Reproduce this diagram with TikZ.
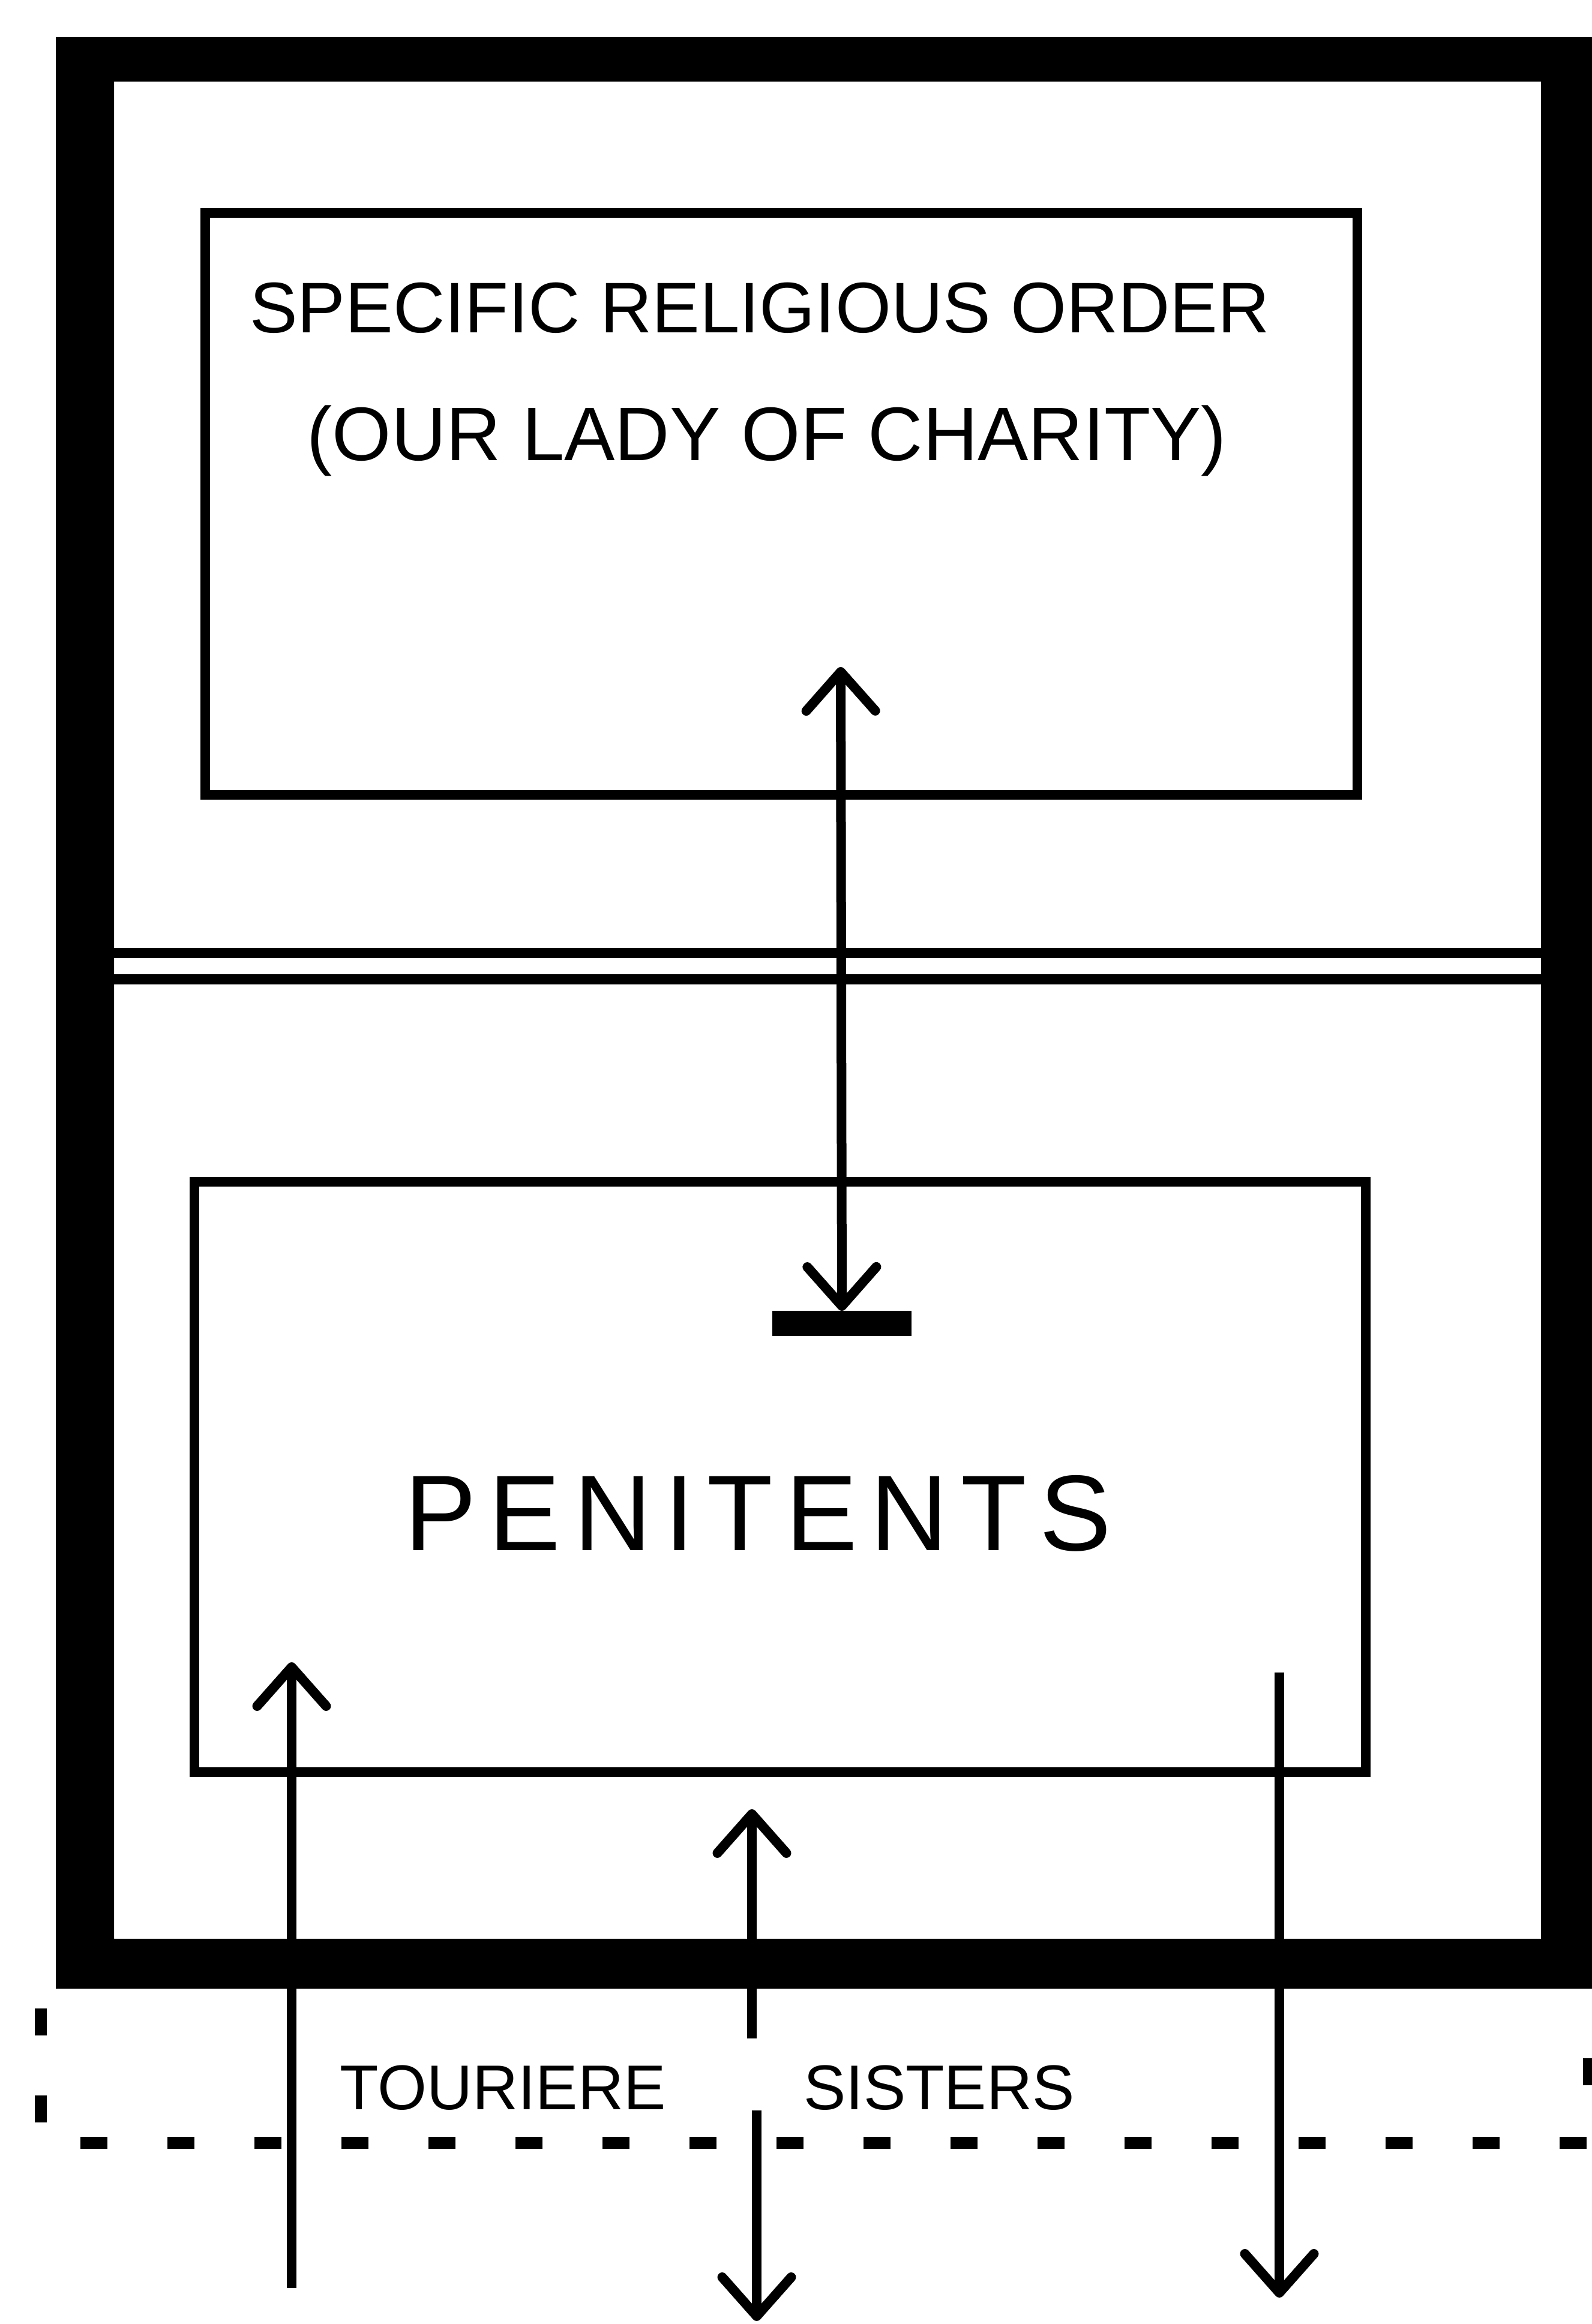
\documentclass[tikz,border=0pt]{standalone}
\usepackage{fontspec}
\setmainfont{Liberation Sans}
\usepackage{tkz-euclide}
\usetikzlibrary{arrows.meta,calc}
\definecolor{InkClr}{rgb}{0,0,0}

\begin{document}
\begin{tikzpicture}[scale=1,
  >={Straight Barb[length=.65cm,width=1.15cm,round]},
  wall/.style={fill=InkClr,even odd rule},
  room/.style={draw=InkClr,line width=.16cm,inner sep=0pt,outer sep=0pt},
  stopbar/.style={fill=InkClr,minimum width=2.32cm,minimum height=.42cm,inner sep=0pt,outer sep=0pt},
  hand/.style={text=InkClr,anchor=base,inner sep=0pt},
  arr/.style={draw=InkClr,line width=.16cm},
  fence/.style={draw=InkClr,line width=.2cm,dash pattern=on .45cm off 1cm}]
\useasboundingbox (0,0) rectangle (26.52,38.74);
\tkzSetUpLine[line width=.17cm,color=InkClr]

\tkzDefPoints{0.93/5.59/W1,26.60/38.12/W2,1.90/6.42/W3,25.68/37.38/W4}
\tkzDefPoints{1.90/22.85/D1,25.68/22.85/D2,1.90/22.41/D3,25.68/22.41/D4}
\tkzDefPoints{14.01/27.62/C1,4.86/0.60/L1,4.86/11.03/L2,12.53/4.76/M1,12.53/8.58/M2}
\tkzDefPoints{12.61/3.56/M3,12.61/0.05/M4,21.32/10.86/R1,21.32/0.44/R2}
\tkzDefPoints{0.68/5.26/B1,0.68/3.02/B2,26.48/3.02/B3,26.48/5.26/B4}

\fill[wall] (W1) rectangle (W2) (W3) rectangle (W4);
\tkzDrawSegments(D1,D2 D3,D4)

\node[room,minimum width=19.2cm,minimum height=9.7cm] (order) at (13.02,30.34) {};
\node[room,minimum width=19.52cm,minimum height=9.84cm] (pen) at (13.00,14.12) {};

\node[hand,font=\fontsize{34}{40}\selectfont] (ordname) at (12.66,33.19) {SPECIFIC RELIGIOUS ORDER};
\node[hand,font=\fontsize{36}{42}\selectfont] (ordsub) at (12.78,31.06) {(OUR LADY OF CHARITY)};
\node[hand,font=\fontsize{51}{60}\selectfont\addfontfeature{LetterSpace=12}] (penname) at (12.63,12.89) {PENITENTS};
\node[hand,font=\fontsize{30}{36}\selectfont] (tour) at (8.38,3.57) {TOURIERE};
\node[hand,font=\fontsize{30}{36}\selectfont] (sis) at (15.65,3.57) {SISTERS};

\node[stopbar] (stop) at (14.03,16.68) {};
\draw[arr,<->] (C1) -- (stop.north);

\draw[arr,->] (L1) -- (L2);
\draw[arr,->] (M1) -- (M2);
\draw[arr,->] (M3) -- (M4);
\draw[arr,->] (R1) -- (R2);

\draw[fence] (B1) -- (B2) -- (B3) -- (B4);

\end{tikzpicture}
\end{document}
